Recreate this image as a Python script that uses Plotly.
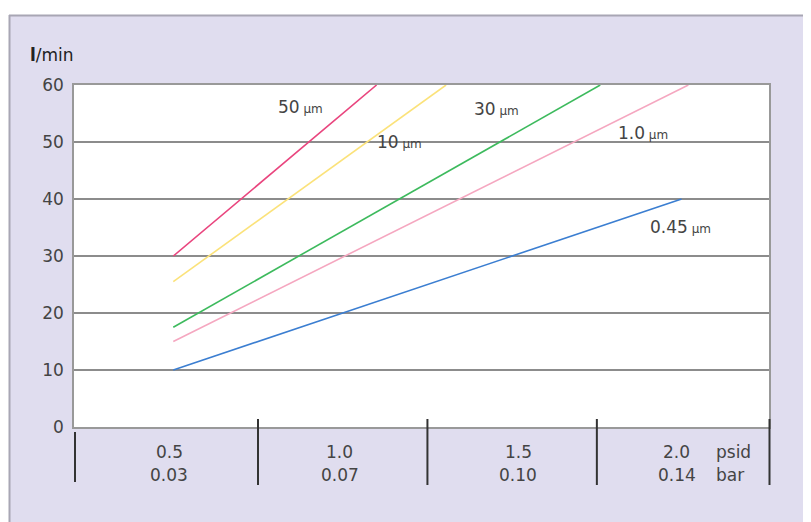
import plotly.graph_objects as go

# ---- data ----
series_names = ["50 µm", "10 µm", "30 µm", "1.0 µm", "0.45 µm"]
series_psid = [[0.5, 1.10], [0.5, 1.305], [0.5, 1.76], [0.5, 2.02], [0.5, 2.0]]
series_flow = [[30, 60], [25.5, 60], [17.5, 60], [15, 60], [10, 40]]
series_colors = ["#e9457e", "#fbe27a", "#3dba5d", "#f5a7c0", "#3b7ed1"]
label_num = ["50", "10", "30", "1.0", "0.45"]
label_x = [0.874, 1.169, 1.455, 1.886, 1.998]
label_y = [56.2, 50.0, 55.8, 51.6, 35.1]
psid_ticks = [0.5, 1.0, 1.5, 2.0]
psid_labels = ["0.5", "1.0", "1.5", "2.0"]
bar_labels = ["0.03", "0.07", "0.10", "0.14"]
label_shift = [-4, -3, 6, -5]
sep_vals = [0.75, 1.25, 1.75]
y_ticks = [0, 10, 20, 30, 40, 50, 60]

OFF = 8  # page body margin
W, H = 811 - OFF, 522 - OFF
L, T = 74 - OFF, 85 - OFF
PW, PH = 695, 342
R, B = W - L - PW, H - T - PH
XR = [0.207, 2.258]
TXT = "#444444"
FONT = "DejaVu Sans, sans-serif"
FS = 17


def pxx(p):
    # page pixel x -> paper
    return (p - OFF - L) / PW


def pxy(p):
    # page pixel y -> paper
    return (T + PH - (p - OFF)) / PH


fig = go.Figure()
for n, xs, ys, c in zip(series_names, series_psid, series_flow, series_colors):
    fig.add_trace(go.Scatter(x=xs, y=ys, mode="lines", name=n,
                             line=dict(color=c, width=1.6), showlegend=False))

anns = []
for num, x, y in zip(label_num, label_x, label_y):
    anns.append(dict(x=x, y=y, xref="x", yref="y", showarrow=False,
                     text=f"{num}<span style='font-size:12px'> µm</span>",
                     font=dict(size=FS, color=TXT, family=FONT)))
for v, a, b, s in zip(psid_ticks, psid_labels, bar_labels, label_shift):
    anns.append(dict(x=v, y=pxy(452), xref="x", yref="paper", showarrow=False,
                     yanchor="middle", text=a, xshift=s,
                     font=dict(size=FS, color=TXT, family=FONT)))
    anns.append(dict(x=v, y=pxy(475), xref="x", yref="paper", showarrow=False,
                     yanchor="middle", text=b, xshift=s,
                     font=dict(size=FS, color=TXT, family=FONT)))
anns.append(dict(x=pxx(714), y=pxy(452), xref="paper", yref="paper", showarrow=False,
                 xanchor="left", yanchor="middle", text="psid",
                 font=dict(size=FS, color=TXT, family=FONT)))
anns.append(dict(x=pxx(714), y=pxy(475), xref="paper", yref="paper", showarrow=False,
                 xanchor="left", yanchor="middle", text="bar",
                 font=dict(size=FS, color=TXT, family=FONT)))
anns.append(dict(x=pxx(28), y=pxy(55), xref="paper", yref="paper", showarrow=False,
                 xanchor="left", yanchor="middle", text="<b>l</b>/min",
                 font=dict(size=17, color="#222", family=FONT)))

shapes = []
# white outer strip and frame
shapes.append(dict(type="rect", xref="paper", yref="paper", x0=pxx(-5), x1=pxx(820),
                   y0=pxy(15), y1=pxy(-5), fillcolor="white", line=dict(width=0), layer="below"))
shapes.append(dict(type="rect", xref="paper", yref="paper", x0=pxx(-5), x1=pxx(9),
                   y0=pxy(530), y1=pxy(-5), fillcolor="white", line=dict(width=0), layer="below"))
shapes.append(dict(type="line", xref="paper", yref="paper", x0=pxx(9), x1=pxx(820),
                   y0=pxy(15.5), y1=pxy(15.5), line=dict(color="#a8a6b4", width=2)))
shapes.append(dict(type="line", xref="paper", yref="paper", x0=pxx(9.5), x1=pxx(9.5),
                   y0=pxy(15), y1=pxy(530), line=dict(color="#a8a6b4", width=2)))


def xpaper(v):
    return (v - XR[0]) / (XR[1] - XR[0])


for v in sep_vals:
    shapes.append(dict(type="line", xref="paper", yref="paper", x0=xpaper(v), x1=xpaper(v),
                       y0=pxy(419), y1=pxy(485), line=dict(color="#333", width=2)))
shapes.append(dict(type="line", xref="paper", yref="paper", x0=pxx(75), x1=pxx(75),
                   y0=pxy(432), y1=pxy(482), line=dict(color="#333", width=2)))
shapes.append(dict(type="line", xref="paper", yref="paper", x0=pxx(769.5), x1=pxx(769.5),
                   y0=pxy(419), y1=pxy(485), line=dict(color="#333", width=2)))

fig.update_layout(
    width=W, height=H,
    margin=dict(l=L, r=R, t=T, b=B, pad=0),
    paper_bgcolor="#e0ddef", plot_bgcolor="white",
    annotations=anns, shapes=shapes, showlegend=False,
    xaxis=dict(range=XR, showgrid=False, zeroline=False, showticklabels=False,
               showline=True, linecolor="#999", linewidth=1.5, mirror=True, ticks=""),
    yaxis=dict(range=[0, 60], tickvals=y_ticks, showgrid=True, gridcolor="#8c8c8c",
               gridwidth=1.6, zeroline=False, showline=True, linecolor="#999",
               linewidth=1.5, mirror=True, ticks="", ticklabelstandoff=5,
               tickfont=dict(size=FS, color=TXT, family=FONT)),
)
fig.write_html("out.html")
